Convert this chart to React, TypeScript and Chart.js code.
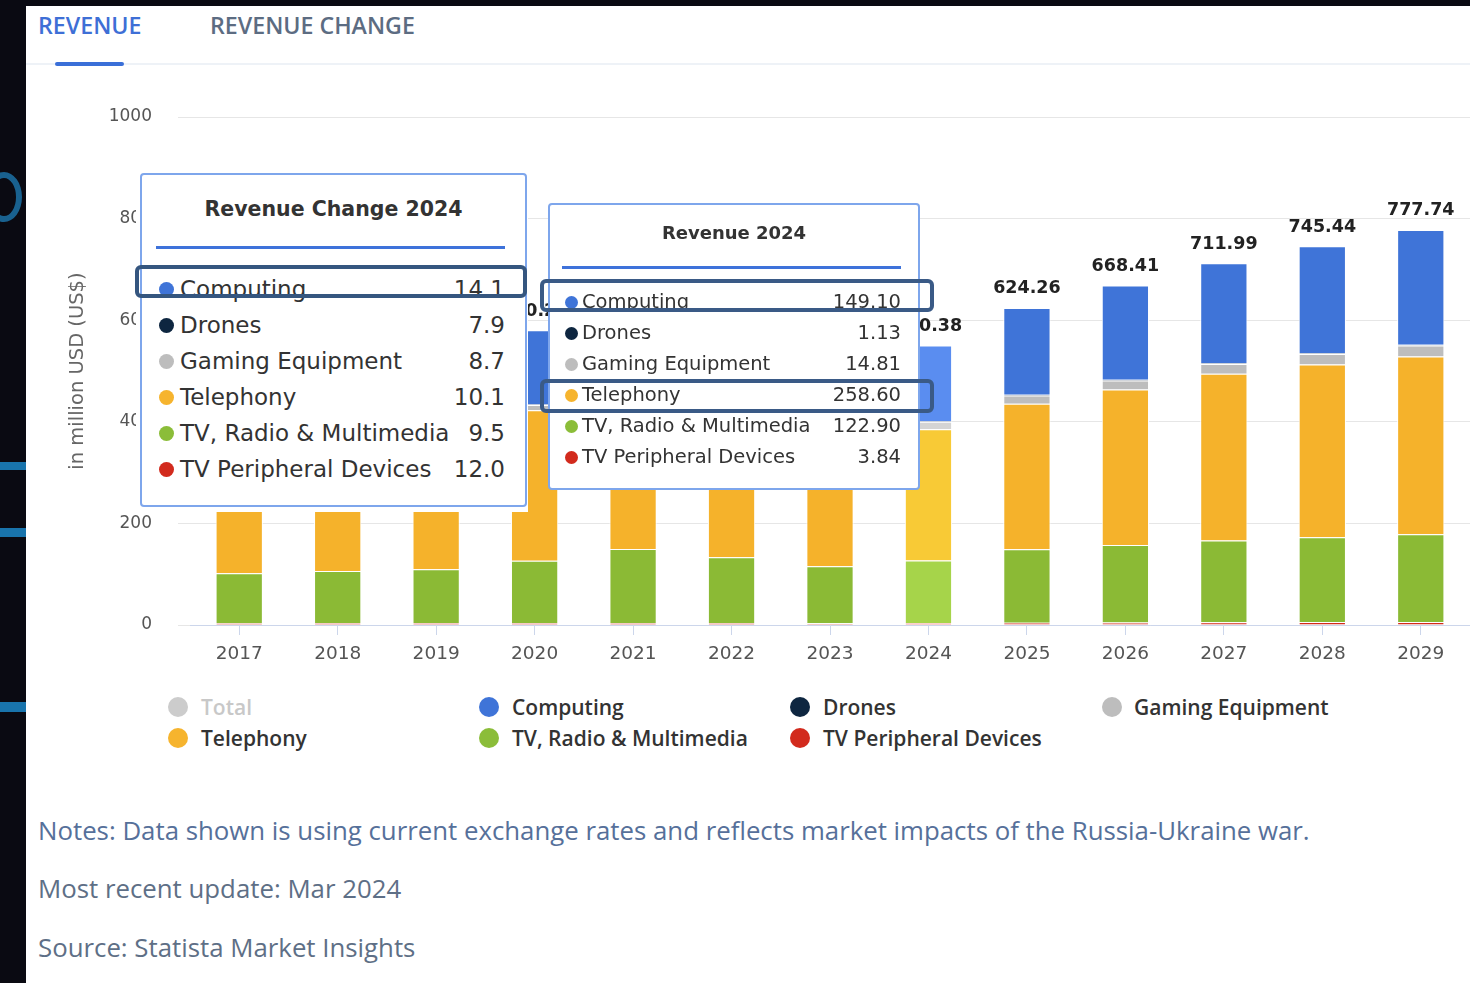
import React, { useEffect, useRef } from "react";
import { Chart, registerables } from "chart.js";

Chart.register(...registerables);

// ---------- data ----------
const years = ["2017", "2018", "2019", "2020", "2021", "2022", "2023", "2024", "2025", "2026", "2027", "2028", "2029"];
const computing = [118, 116, 113, 146.2, 158, 137, 130.67, 149.1, 171.1, 185.6, 196.9, 210.67, 226.18];
const drones = [0.7, 0.78, 0.85, 0.95, 1.0, 1.02, 1.05, 1.13, 1.22, 1.31, 1.39, 1.47, 1.56];
const gaming = [8.2, 8.6, 9.0, 10.5, 12.0, 12.8, 13.62, 14.81, 16.4, 17.9, 19.3, 20.5, 21.5];
const telephony = [235, 245, 250, 296, 288, 258, 234.88, 258.6, 286.5, 306, 328, 340, 349.8];
const tvRadio = [98.2, 102.6, 105.8, 122.8, 145.5, 129.5, 112.24, 122.9, 144.5, 152.5, 161, 167, 172.6];
const tvPeripheral = [3.5, 3.7, 3.8, 3.8, 4.07, 3.8, 3.43, 3.84, 4.54, 5.1, 5.4, 5.8, 6.1];
const totals = [463.6, 476.68, 482.45, 580.25, 608.57, 542.12, 495.89, 550.38, 624.26, 668.41, 711.99, 745.44, 777.74];

const yTicks = [0, 200, 400, 600, 800, 1000];

const seriesNames = ["Computing", "Drones", "Gaming Equipment", "Telephony", "TV, Radio & Multimedia", "TV Peripheral Devices"];
const seriesData = [computing, drones, gaming, telephony, tvRadio, tvPeripheral];
const change2024 = ["14.1", "7.9", "8.7", "10.1", "9.5", "12.0"];
const tooltipYear = "2024";

// ---------- styles ----------
const baseColors = ["#3f74d8", "#0e2640", "#bdbdbd", "#f5b22b", "#8bba35", "#d42c1c"];
const hoverColors = ["#5a8df0", "#284060", "#d4d4d4", "#f8ca36", "#a6d44a", "#e84538"];
const dotColors = ["#3f74d8", "#0e2640", "#bdbdbd", "#f6b42e", "#8bbd39", "#d22a1d"];

const TXT = "#333";

function Dot({ cx, cy, d, color }: { cx: number; cy: number; d: number; color: string }) {
  return (
    <div
      style={{
        position: "absolute",
        left: cx - d / 2,
        top: cy - d / 2,
        width: d,
        height: d,
        borderRadius: "50%",
        background: color,
      }}
    />
  );
}

function Abs(props: { left: number; top: number; width?: number; height?: number; style?: any; children?: any }) {
  return (
    <div
      style={{
        position: "absolute",
        left: props.left,
        top: props.top,
        width: props.width,
        height: props.height,
        boxSizing: "border-box",
        ...props.style,
      }}
    >
      {props.children}
    </div>
  );
}

export default function App() {
  const ref = useRef<HTMLCanvasElement>(null);

  useEffect(() => {
    const hoverIndex = years.indexOf(tooltipYear);
    const order = [5, 4, 3, 2, 1, 0]; // bottom to top
    const datasets = order.map((s) => ({
      label: seriesNames[s],
      data: seriesData[s],
      backgroundColor: years.map((_, i) => (i === hoverIndex ? hoverColors[s] : baseColors[s])),
      borderColor: "#ffffff",
      borderWidth: 1,
      categoryPercentage: 1,
      barPercentage: 0.48,
    }));

    const totalLabels = {
      id: "totalLabels",
      afterDatasetsDraw(chart: any) {
        const ctx = chart.ctx;
        const meta = chart.getDatasetMeta(chart.data.datasets.length - 1);
        ctx.save();
        ctx.font = 'bold 17.5px "DejaVu Sans"';
        ctx.fillStyle = "#222";
        ctx.textAlign = "center";
        ctx.textBaseline = "middle";
        meta.data.forEach((el: any, i: number) => {
          ctx.fillText(totals[i].toFixed(2), el.x, el.y - 19);
        });
        ctx.restore();
      },
    };

    const chart = new Chart(ref.current!, {
      type: "bar",
      data: { labels: years, datasets },
      options: {
        animation: false,
        responsive: false,
        devicePixelRatio: 1,
        layout: { padding: { top: 47, left: 0, right: 0, bottom: 0 } },
        plugins: { legend: { display: false }, tooltip: { enabled: false } },
        scales: {
          x: {
            stacked: true,
            offset: true,
            grid: {
              display: true,
              drawOnChartArea: false,
              drawTicks: true,
              tickLength: 10,
              color: "#ccd6eb",
              offset: false,
            },
            border: { display: true, color: "#ccd6eb", width: 1 },
            ticks: {
              font: { family: "DejaVu Sans", size: 18.5 },
              color: "#555",
              padding: 8,
              maxRotation: 0,
              autoSkip: false,
            },
            afterFit: (s: any) => {
              s.height = 60;
            },
          },
          y: {
            stacked: true,
            min: 0,
            max: 1000,
            afterBuildTicks: (s: any) => {
              s.ticks = yTicks.map((v) => ({ value: v }));
            },
            ticks: {
              font: { family: "DejaVu Sans", size: 17 },
              color: "#555",
              padding: 26,
              callback: (v: any) => String(v),
            },
            grid: { color: "#e6e6e6", tickLength: 12, drawTicks: true },
            border: { display: false },
            title: {
              display: true,
              text: "in million USD (US$)",
              font: { family: "DejaVu Sans", size: 19.5 },
              color: "#666",
              padding: { top: 40, bottom: 0 },
            },
            afterFit: (s: any) => {
              s.width = 164;
            },
          },
        },
      },
      plugins: [totalLabels],
    } as any);
    return () => chart.destroy();
  }, []);

  const idx2024 = years.indexOf(tooltipYear);

  const legendItems = [
    { name: "Total", color: "#cccccc", text: "#c8c8c8" },
    ...seriesNames.map((n, i) => ({ name: n, color: dotColors[i], text: "#333" })),
  ];
  const legendCols = [
    { dot: 178, text: 201 },
    { dot: 489, text: 512 },
    { dot: 800, text: 823 },
    { dot: 1112, text: 1134 },
  ];
  const legendRows = [707, 738];

  return (
    <div
      style={{
        position: "absolute",
        left: 0,
        top: 0,
        width: 1470,
        height: 983,
        background: "#0a0a12",
        overflow: "hidden",
        fontFamily: "'Open Sans', sans-serif",
      }}
    >
      {/* dark side decorations */}
      <Abs left={0} top={462} width={26} height={8} style={{ background: "#1d8fd3", opacity: 0.8 }} />
      <Abs left={0} top={528} width={26} height={9} style={{ background: "#1d8fd3", opacity: 0.8 }} />
      <Abs left={0} top={702} width={26} height={10} style={{ background: "#1d8fd3", opacity: 0.8 }} />
      <Abs left={-14} top={172} width={36} height={50} style={{ border: "6px solid #1f86c4", borderRadius: "50%", opacity: 0.7 }} />

      {/* white card */}
      <Abs left={26} top={6} width={1444} height={977} style={{ background: "#ffffff" }} />

      {/* tabs */}
      <Abs left={38} top={9} height={32} style={{ color: "#3e6fd6", fontSize: 23.2, fontWeight: 600, lineHeight: "32px", whiteSpace: "nowrap" }}>
        REVENUE
      </Abs>
      <Abs left={210} top={9} height={32} style={{ color: "#5c6c82", fontSize: 23.2, fontWeight: 600, lineHeight: "32px", whiteSpace: "nowrap" }}>
        REVENUE CHANGE
      </Abs>
      <Abs left={26} top={63} width={1444} height={2} style={{ background: "#eef2f7" }} />
      <Abs left={55} top={62} width={69} height={4} style={{ background: "#3a6fd8", borderRadius: 2 }} />

      {/* chart */}
      <canvas
        ref={ref}
        width={1444}
        height={615}
        style={{ position: "absolute", left: 26, top: 70, width: 1444, height: 615, display: "block" }}
      />

      {/* tooltip 1: Revenue Change */}
      <Abs left={136} top={168} width={392} height={344} style={{ background: "#fff" }} />
      <Abs
        left={140}
        top={173}
        width={387}
        height={334}
        style={{ background: "#fff", border: "2px solid #7ea6ec", borderRadius: 4 }}
      />
      <Abs
        left={140}
        top={194}
        width={387}
        height={30}
        style={{ textAlign: "center", fontFamily: "'DejaVu Sans'", fontWeight: 700, fontSize: 20.5, lineHeight: "30px", color: TXT, whiteSpace: "nowrap" }}
      >
        {"Revenue Change " + tooltipYear}
      </Abs>
      <Abs left={156} top={246} width={349} height={3} style={{ background: "#3e72da" }} />
      {seriesNames.map((n, i) => {
        const cy = 289 + 36 * i;
        return (
          <React.Fragment key={"t1" + i}>
            <Dot cx={166} cy={cy} d={15} color={dotColors[i]} />
            <Abs left={180} top={cy - 16} height={32} style={{ fontFamily: "'DejaVu Sans'", fontSize: 23, lineHeight: "32px", color: TXT, whiteSpace: "nowrap" }}>
              {n}
            </Abs>
            <Abs left={395} top={cy - 16} width={110} height={32} style={{ fontFamily: "'DejaVu Sans'", fontSize: 23, lineHeight: "32px", color: TXT, textAlign: "right", whiteSpace: "nowrap" }}>
              {change2024[i]}
            </Abs>
          </React.Fragment>
        );
      })}
      <Abs left={135} top={265} width={392} height={33} style={{ border: "4px solid #35567f", borderRadius: 6 }} />

      {/* tooltip 2: Revenue */}
      <Abs
        left={548}
        top={203}
        width={372}
        height={287}
        style={{ background: "#fff", border: "2px solid #7ea6ec", borderRadius: 4 }}
      />
      <Abs
        left={548}
        top={219}
        width={372}
        height={28}
        style={{ textAlign: "center", fontFamily: "'DejaVu Sans'", fontWeight: 700, fontSize: 18, lineHeight: "28px", color: TXT, whiteSpace: "nowrap" }}
      >
        {"Revenue " + tooltipYear}
      </Abs>
      <Abs left={562} top={266} width={339} height={3} style={{ background: "#3e72da" }} />
      {seriesNames.map((n, i) => {
        const cy = 302 + 31 * i;
        return (
          <React.Fragment key={"t2" + i}>
            <Dot cx={571} cy={cy} d={13} color={dotColors[i]} />
            <Abs left={582} top={cy - 14} height={28} style={{ fontFamily: "'DejaVu Sans'", fontSize: 19.5, lineHeight: "28px", color: TXT, whiteSpace: "nowrap" }}>
              {n}
            </Abs>
            <Abs left={791} top={cy - 14} width={110} height={28} style={{ fontFamily: "'DejaVu Sans'", fontSize: 19.5, lineHeight: "28px", color: TXT, textAlign: "right", whiteSpace: "nowrap" }}>
              {seriesData[i][idx2024].toFixed(2)}
            </Abs>
          </React.Fragment>
        );
      })}
      <Abs left={540} top={279} width={394} height={33} style={{ border: "4px solid #3a5a86", borderRadius: 6 }} />
      <Abs left={540} top={379} width={394} height={34} style={{ border: "4px solid #3a5a86", borderRadius: 6 }} />

      {/* legend */}
      {legendItems.map((it, k) => {
        const row = k < 4 ? 0 : 1;
        const col = k < 4 ? k : k - 4;
        const cy = legendRows[row];
        const c = legendCols[col];
        return (
          <React.Fragment key={"lg" + k}>
            <Dot cx={c.dot} cy={cy} d={20} color={it.color} />
            <Abs left={c.text} top={cy - 15} height={30} style={{ fontSize: 21, fontWeight: 600, lineHeight: "30px", color: it.text, whiteSpace: "nowrap" }}>
              {it.name}
            </Abs>
          </React.Fragment>
        );
      })}

      {/* notes */}
      <Abs left={38} top={811} height={38} style={{ fontSize: 25.8, lineHeight: "38px", color: "#56709a", whiteSpace: "nowrap" }}>
        Notes: Data shown is using current exchange rates and reflects market impacts of the Russia-Ukraine war.
      </Abs>
      <Abs left={38} top={869} height={38} style={{ fontSize: 25.8, lineHeight: "38px", color: "#5e6f86", whiteSpace: "nowrap" }}>
        Most recent update: Mar 2024
      </Abs>
      <Abs left={38} top={928} height={38} style={{ fontSize: 25.8, lineHeight: "38px", color: "#5e6f86", whiteSpace: "nowrap" }}>
        Source: Statista Market Insights
      </Abs>
    </div>
  );
}
